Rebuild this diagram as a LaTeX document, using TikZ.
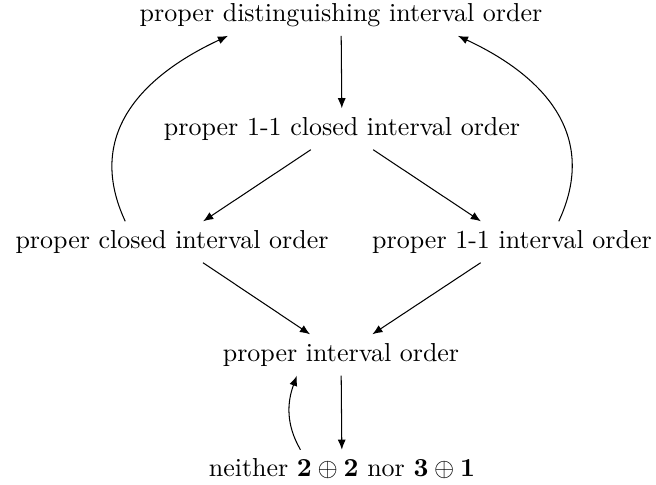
\documentclass[tikz,border=0pt]{standalone}
\usepackage{amsmath}
\usepackage{amssymb}
\usepackage{tikz}
\usetikzlibrary{arrows.meta}
\tikzset{
    order/.style={inner sep=3.33pt},
    implies/.style={-{Latex[length=3.9pt, width=3.1pt]}},
    back/.style={implies, looseness=1.15}
}

\begin{document}
\begin{tikzpicture}[x=0.385pt, y=0.385pt]
    \useasboundingbox (0,0) rectangle (656,-484);
    % the orders, from top to bottom
    \node[order] (distinguishing) at (341,-15) {proper distinguishing interval order};
    \node[order] (oneoneclosed) at (342,-129) {proper 1-1 closed interval order};
    \node[order] (closed) at (172,-242) {proper closed interval order};
    \node[order] (oneone) at (512,-242) {proper 1-1 interval order};
    \node[order] (proper) at (341,-355) {proper interval order};
    \node[order] (neither) at (342,-469) {neither $\mathbf{2}\oplus\mathbf{2}$ nor $\mathbf{3}\oplus\mathbf{1}$};

    \draw[implies] (distinguishing) -- (oneoneclosed);
    \draw[implies] (oneoneclosed) -- (closed);
    \draw[implies] (oneoneclosed) -- (oneone);
    \draw[implies] (closed) -- (proper);
    \draw[implies] (oneone) -- (proper);
    \draw[implies] (proper) -- (neither);

    % the way back up
    \draw[back] ([xshift=-18pt]closed.north) to[out=115, in=205] ([xshift=-43.5pt]distinguishing.south);
    \draw[back] ([xshift=18pt]oneone.north) to[out=65, in=-25] ([xshift=45pt]distinguishing.south);
    \draw[implies] ([xshift=-16pt]neither.north) to[out=120, in=250] ([xshift=-17pt]proper.south);
\end{tikzpicture}
\end{document}
